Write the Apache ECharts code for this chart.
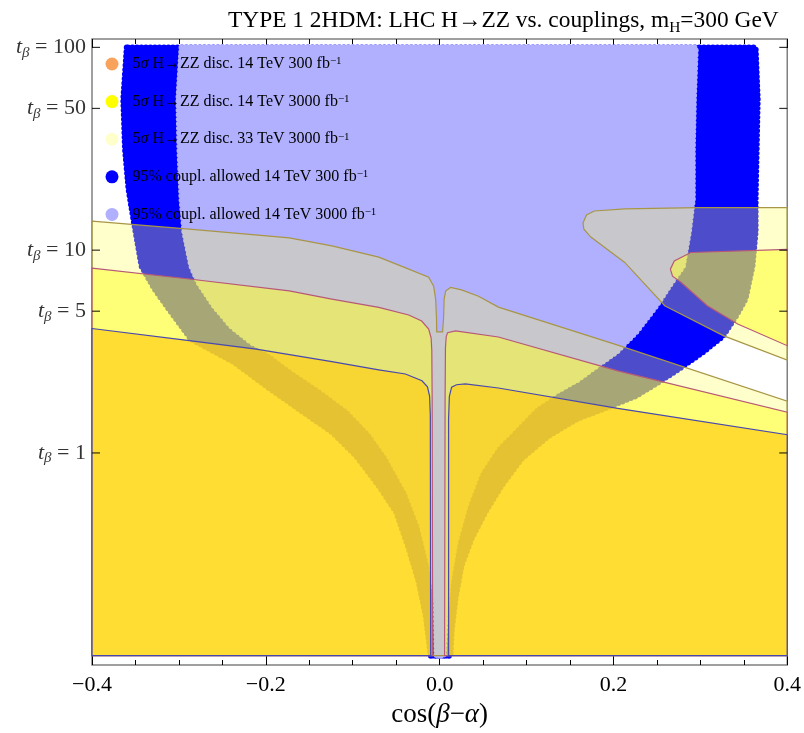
<!DOCTYPE html>
<html>
<head>
<meta charset="utf-8">
<title>TYPE 1 2HDM: LHC H→ZZ vs. couplings</title>
<script src="https://cdn.jsdelivr.net/npm/echarts@6/dist/echarts.min.js"></script>
<style>
    html, body { margin: 0; padding: 0; background: #fff; }
    #chart { width: 804px; height: 733px; }
</style>
</head>
<body>
<div id="chart"></div>
<script>
(function () {
    'use strict';

    // tick values on the tan(beta) axis
    var yTicks = [1, 5, 10, 50, 100];

    // 5 sigma discovery regions, points are [cos(beta-alpha), tan(beta)]
    var pale33Main = [
        [-0.4, 13.9], [-0.288, 12.7], [-0.173, 11.5], [-0.124, 10.5], [-0.070, 9.24],
        [-0.0355, 8.06], [-0.0126, 7.36], [-0.0069, 6.65], [-0.0046, 5.74], [-0.0036, 4.6],
        [-0.0034, 3.95], [0.0034, 3.95], [0.0045, 4.6], [0.0052, 5.74], [0.0069, 6.28],
        [0.0126, 6.55], [0.0252, 6.37], [0.0447, 5.93], [0.0676, 5.24], [0.205, 3.40],
        [0.4, 1.80], [0.4, 0.1], [-0.4, 0.1]
    ];
    var pale33Lobe = [
        [0.4, 16.2], [0.297, 16.2], [0.213, 16.0], [0.178, 15.6], [0.169, 14.9],
        [0.165, 13.6], [0.166, 12.7], [0.174, 11.6], [0.213, 8.70], [0.259, 5.32],
        [0.327, 3.78], [0.4, 2.87]
    ];
    var yellow14Left = [
        [-0.4, 8.15], [-0.288, 7.21], [-0.173, 6.30], [-0.124, 5.74], [-0.070, 5.22],
        [-0.0355, 4.79], [-0.0206, 4.47], [-0.0126, 4.08], [-0.0098, 3.7], [-0.0090, 3.2],
        [-0.0086, 1.85], [-0.008, 0.1], [-0.4, 0.1]
    ];
    var yellow14Right = [
        [0.0057, 0.1], [0.0063, 1.85], [0.0067, 3.3], [0.0076, 3.75], [0.0092, 3.92],
        [0.0183, 4.00], [0.0676, 3.73], [0.205, 2.54], [0.4, 1.59], [0.4, 0.1]
    ];
    var yellow14Lobe = [
        [0.4, 10.1], [0.289, 9.74], [0.270, 8.85], [0.2655, 8.06], [0.268, 7.44],
        [0.278, 6.93], [0.308, 5.32], [0.343, 4.32], [0.4, 3.38]
    ];
    var orange14Left = [
        [-0.4, 4.11], [-0.288, 3.58], [-0.211, 3.25], [-0.124, 2.82], [-0.070, 2.57],
        [-0.0393, 2.45], [-0.0203, 2.27], [-0.0140, 2.12], [-0.0115, 1.9], [-0.0107, 1.53],
        [-0.0103, 0.1], [-0.4, 0.1]
    ];
    var orange14Right = [
        [0.0103, 0.1], [0.0103, 1.47], [0.0112, 1.9], [0.0138, 2.11], [0.0195, 2.17],
        [0.0295, 2.19], [0.0676, 2.09], [0.205, 1.66], [0.4, 1.23], [0.4, 0.1]
    ];

    // 95% coupling-allowed regions
    var coupl300 = [
        [-0.360, 100], [-0.364, 55.5], [-0.362, 31.4], [-0.358, 20.0], [-0.352, 13.9],
        [-0.343, 8.34], [-0.328, 6.43], [-0.309, 4.95], [-0.286, 3.64], [-0.237, 2.81],
        [-0.195, 2.07], [-0.157, 1.59], [-0.124, 1.27], [-0.096, 0.967], [-0.070, 0.688],
        [-0.050, 0.512], [-0.0355, 0.337], [-0.024, 0.231], [-0.016, 0.157], [-0.0103, 0.1],
        [0.0126, 0.1], [0.0138, 0.131], [0.0183, 0.191], [0.0252, 0.278], [0.0367, 0.377],
        [0.0527, 0.512], [0.0711, 0.688], [0.094, 0.934], [0.125, 1.21], [0.158, 1.47],
        [0.189, 1.65], [0.226, 1.91], [0.2525, 2.24], [0.275, 2.59], [0.303, 3.14],
        [0.326, 3.77], [0.341, 4.73], [0.352, 5.74], [0.360, 8.34], [0.3636, 12.3],
        [0.3636, 17.8], [0.3648, 31.4], [0.366, 55.5], [0.3636, 100]
    ];
    var coupl3000 = [
        [-0.297, 100], [-0.3006, 55.5], [-0.2994, 31.4], [-0.297, 17.8], [-0.2937, 12.3],
        [-0.2857, 8.34], [-0.2777, 6.95], [-0.2593, 5.30], [-0.2398, 4.22], [-0.2169, 3.52],
        [-0.194, 3.14], [-0.1711, 2.65], [-0.1342, 2.07], [-0.1033, 1.65], [-0.0779, 1.27],
        [-0.0585, 0.967], [-0.0355, 0.642], [-0.0206, 0.437], [-0.0092, 0.278], [-0.0046, 0.191],
        [-0.0034, 0.1], [0.0046, 0.1], [0.0069, 0.157], [0.0103, 0.232], [0.0183, 0.364],
        [0.0298, 0.548], [0.0447, 0.806], [0.0642, 1.08], [0.0871, 1.36], [0.109, 1.70],
        [0.1354, 2.02], [0.1583, 2.29], [0.1802, 2.68], [0.2032, 3.14], [0.2261, 3.95],
        [0.249, 5.30], [0.2639, 6.65], [0.2799, 8.34], [0.2868, 12.3], [0.2914, 17.8],
        [0.2914, 31.4], [0.2926, 55.5], [0.2948, 100]
    ];

    var NAME_O = 'disc14_300', NAME_Y = 'disc14_3000', NAME_P = 'disc33_3000';
    var NAME_B = 'coupl14_300', NAME_L = 'coupl14_3000';

    // legend dot colours and rich labels
    var legendColor = {};
    legendColor[NAME_O] = '#f9a25c';
    legendColor[NAME_Y] = '#ffff00';
    legendColor[NAME_P] = '#ffffcc';
    legendColor[NAME_B] = '#0000ff';
    legendColor[NAME_L] = '#b0b0ff';

    var legendText = {};
    legendText[NAME_O] = '{t|5}{g|σ}{t| H→ZZ disc. 14 TeV 300 fb}{sup|−1}';
    legendText[NAME_Y] = '{t|5}{g|σ}{t| H→ZZ disc. 14 TeV 3000 fb}{sup|−1}';
    legendText[NAME_P] = '{t|5}{g|σ}{t| H→ZZ disc. 33 TeV 3000 fb}{sup|−1}';
    legendText[NAME_B] = '{t|95% coupl. allowed 14 TeV 300 fb}{sup|−1}';
    legendText[NAME_L] = '{t|95% coupl. allowed 14 TeV 3000 fb}{sup|−1}';

    var FONT = '"Liberation Serif", "DejaVu Serif", serif';

    // one custom series per region, each data item is one polygon
    function regionSeries(name, polys, style) {
        return {
            type: 'custom',
            name: name,
            silent: true,
            data: polys.map(function (p, i) { return i; }),
            itemStyle: { color: legendColor[name] },
            renderItem: function (params, api) {
                var pts = polys[params.dataIndex].map(function (p) {
                    return api.coord(p);
                });
                return {
                    type: 'polygon',
                    shape: { points: pts },
                    style: style
                };
            }
        };
    }

    var myChart = echarts.init(document.getElementById('chart'));

    var option = {
        animation: false,
        backgroundColor: '#fff',
        title: {
            text: '{a|TYPE 1 2HDM: LHC H→ZZ vs. couplings, m}{s|H}{a|=300 GeV}',
            left: 228,
            top: 6,
            padding: 0,
            textStyle: {
                fontWeight: 'normal',
                rich: {
                    a: { fontFamily: FONT, fontSize: 23.4, fontWeight: 'normal', lineHeight: 30, color: '#000' },
                    s: { fontFamily: FONT, fontSize: 15.5, fontWeight: 'normal', lineHeight: 20, color: '#000', verticalAlign: 'bottom' }
                }
            }
        },
        legend: {
            orient: 'vertical',
            left: 105.5,
            top: 56,
            padding: 0,
            icon: 'circle',
            itemWidth: 13,
            itemHeight: 13,
            itemGap: 21.6,
            selectedMode: false,
            data: [NAME_O, NAME_Y, NAME_P, NAME_B, NAME_L].map(function (n) {
                return { name: n, itemStyle: { color: legendColor[n] } };
            }),
            formatter: function (name) { return legendText[name]; },
            textStyle: {
                padding: [0, 0, 0, 9],
                rich: {
                    t: { fontFamily: FONT, fontSize: 16, lineHeight: 16, color: '#000' },
                    g: { fontFamily: FONT, fontSize: 16, lineHeight: 16, color: '#000', fontStyle: 'italic' },
                    sup: { fontFamily: FONT, fontSize: 11, lineHeight: 8, color: '#000', verticalAlign: 'top' }
                }
            }
        },
        grid: {
            left: 92,
            right: 14,
            top: 39,
            bottom: 66,
            show: true,
            borderColor: '#808080',
            borderWidth: 1.5
        },
        xAxis: [{
            type: 'value',
            min: -0.4,
            max: 0.4,
            interval: 0.2,
            name: '{n|cos(}{g|β}{n|−}{g|α}{n|)}',
            nameLocation: 'middle',
            nameGap: 36,
            nameTextStyle: {
                rich: {
                    n: { fontFamily: FONT, fontSize: 27, color: '#000' },
                    g: { fontFamily: FONT, fontSize: 27, color: '#000', fontStyle: 'italic' }
                }
            },
            axisLine: { show: false },
            axisTick: { inside: true, length: 9, lineStyle: { color: '#000' } },
            minorTick: { show: true, splitNumber: 4, length: 5, lineStyle: { color: '#000' } },
            splitLine: { show: false },
            axisLabel: {
                margin: 9,
                fontFamily: FONT,
                fontSize: 22,
                color: '#000',
                formatter: function (v) {
                    if (Math.abs(v) < 1e-9) return '0.0';
                    return (v < 0 ? '−' : '') + Math.abs(v).toFixed(1);
                }
            }
        }, {
            type: 'value',
            position: 'top',
            min: -0.4,
            max: 0.4,
            interval: 0.2,
            axisLine: { show: false },
            axisTick: { inside: true, length: 9, lineStyle: { color: '#000' } },
            minorTick: { show: true, splitNumber: 4, length: 5, lineStyle: { color: '#000' } },
            splitLine: { show: false },
            axisLabel: { show: false }
        }],
        yAxis: {
            type: 'log',
            logBase: 10,
            min: 0.09,
            max: 110,
            axisLine: { show: false },
            axisTick: { show: false },
            axisLabel: { show: false },
            splitLine: { show: false }
        },
        series: [
            regionSeries(NAME_B, [coupl300], {
                fill: '#0000ff', stroke: '#0000ff', lineWidth: 6,
                lineDash: [0, 4.5], lineCap: 'round', lineJoin: 'round'
            }),
            regionSeries(NAME_L, [coupl3000], {
                fill: '#b0b0ff', stroke: '#b0b0ff', lineWidth: 6,
                lineDash: [0, 4.5], lineCap: 'round', lineJoin: 'round'
            }),
            regionSeries(NAME_P, [pale33Main, pale33Lobe], {
                fill: 'rgba(255,255,85,0.3)', stroke: '#a89646', lineWidth: 1.2
            }),
            regionSeries(NAME_Y, [yellow14Left, yellow14Right, yellow14Lobe], {
                fill: 'rgba(255,255,34,0.5)', stroke: '#b85878', lineWidth: 1.2
            }),
            regionSeries(NAME_O, [orange14Left, orange14Right], {
                fill: 'rgba(255,206,22,0.7)', stroke: '#4848b0', lineWidth: 1.2
            }),
            {
                // left ticks with labels
                type: 'scatter',
                silent: true,
                z: 10,
                symbol: 'rect',
                symbolSize: [8, 1.2],
                symbolOffset: [4, 0],
                itemStyle: { color: '#000' },
                data: yTicks.map(function (v) { return [-0.4, v]; }),
                label: {
                    show: true,
                    position: 'left',
                    distance: 6,
                    formatter: function (p) {
                        return '{t|t}{s|β}{n| = ' + p.value[1] + '}';
                    },
                    rich: {
                        t: { fontFamily: FONT, fontSize: 22, lineHeight: 26, color: '#000', fontStyle: 'italic' },
                        s: { fontFamily: FONT, fontSize: 15, lineHeight: 12, color: '#000', fontStyle: 'italic', verticalAlign: 'bottom' },
                        n: { fontFamily: FONT, fontSize: 22, lineHeight: 26, color: '#000' }
                    }
                }
            },
            {
                // right ticks
                type: 'scatter',
                silent: true,
                z: 10,
                symbol: 'rect',
                symbolSize: [8, 1.2],
                symbolOffset: [-4, 0],
                itemStyle: { color: '#000' },
                data: yTicks.map(function (v) { return [0.4, v]; })
            }
        ]
    };

    myChart.setOption(option);
})();
</script>
</body>
</html>
